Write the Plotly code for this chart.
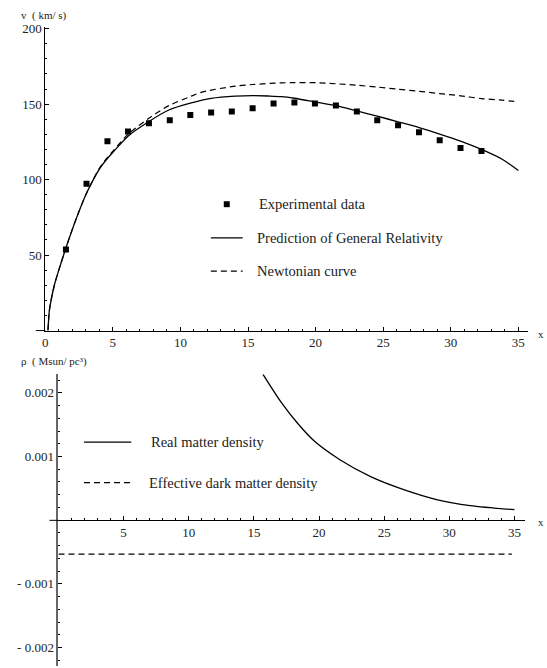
import plotly.graph_objects as go

# ---------------- data ----------------
exp_r = [1.53, 3.05, 4.6, 6.12, 7.67, 9.21, 10.73, 12.27, 13.8, 15.34, 16.89,
         18.43, 19.95, 21.5, 23.05, 24.56, 26.1, 27.65, 29.18, 30.72, 32.27]
exp_v = [53.7, 97.2, 125.4, 131.8, 137.3, 139.3, 142.8, 144.5, 145.2, 147.2, 150.5,
         151.1, 150.5, 149.1, 145.2, 139.3, 136.0, 131.4, 126.1, 120.9, 118.9]

gr_r = [0.2, 0.3, 0.45, 0.7, 1.0, 1.5, 2.0, 2.5, 3.0, 3.5, 4.0, 4.5, 5.0, 6.12, 7.67,
        9.14, 10.73, 12.27, 14.04, 15.34, 16.5, 17.5, 18.43, 19.95, 21.5, 23.05,
        24.56, 26.1, 27.65, 29.18, 30.72, 32.27, 33.8, 35.0]
gr_v = [0.0, 13, 21, 31, 40, 54, 67, 79, 90, 99, 107, 113, 118, 128.8, 138.5,
        146.1, 150.6, 153.8, 155.3, 155.6, 155.4, 155.0, 153.9, 151.5, 149.0, 145.5,
        142.0, 138.3, 134.5, 130.2, 125.5, 120.0, 113.5, 106.0]

newton_r = [0.2, 0.3, 0.45, 0.7, 1.0, 1.5, 2.0, 2.5, 3.0, 3.5, 4.0, 4.5, 5.0, 6.12,
            7.67, 9.14, 10.73, 11.59, 14.04, 15.34, 17.5, 18.43, 20.0, 21.5, 23.05,
            24.56, 26.1, 27.65, 29.18, 30.72, 32.27, 33.8, 35.0]
newton_v = [0.0, 13, 21, 31, 40, 54, 67, 79, 90, 99.3, 107.5, 113.6, 118.8, 130.0,
            140.7, 149.0, 155.0, 158.0, 161.9, 163.0, 164.1, 164.3, 164.2, 163.5, 162.5,
            161.3, 159.9, 158.5, 157.0, 155.5, 153.7, 152.6, 151.5]

rho_r = [15.7, 17.1, 18.4, 19.7, 21.6, 24.0, 26.5, 29.1, 31.6, 35.0]
rho_real = [0.00229, 0.00185, 0.00151, 0.00123, 0.00095, 0.00068, 0.00048,
            0.00032, 0.00023, 0.000165]
dark_r = [0.0, 34.8]
dark_rho = [-0.000534, -0.000534]

top_xticks = [0, 5, 10, 15, 20, 25, 30, 35]
top_yticks = [50, 100, 150, 200]
bot_xticks = [5, 10, 15, 20, 25, 30, 35]
bot_yticks = [0.002, 0.001, -0.001, -0.002]
bot_yticktext = ["0.002", "0.001", "- 0.001", "- 0.002"]

# ---------------- figure ----------------
W, H = 547, 668
FONT = "Liberation Serif"


def px(x):
    return x / W


def py(y):
    return 1 - y / H


fig = go.Figure()

fig.add_trace(go.Scatter(x=newton_r, y=newton_v, mode="lines",
                         line=dict(color="black", width=1.2, dash="6px,4px",
                                   shape="spline", smoothing=0.8),
                         xaxis="x", yaxis="y", showlegend=False))
fig.add_trace(go.Scatter(x=gr_r, y=gr_v, mode="lines",
                         line=dict(color="black", width=1.3, shape="spline", smoothing=0.8),
                         xaxis="x", yaxis="y", showlegend=False))
fig.add_trace(go.Scatter(x=exp_r, y=exp_v, mode="markers",
                         marker=dict(symbol="square", size=6, color="black"),
                         xaxis="x", yaxis="y", showlegend=False))

fig.add_trace(go.Scatter(x=rho_r, y=rho_real, mode="lines",
                         line=dict(color="black", width=1.3, shape="spline", smoothing=0.8),
                         xaxis="x2", yaxis="y2", showlegend=False))
fig.add_trace(go.Scatter(x=dark_r, y=dark_rho, mode="lines",
                         line=dict(color="black", width=1.2, dash="6px,4px"),
                         xaxis="x2", yaxis="y2", showlegend=False))

tickfont = dict(family=FONT, size=13, color="#222")
common_axis = dict(showgrid=False, zeroline=False, showline=True, linecolor="black",
                   linewidth=1, ticks="inside", tickcolor="black", tickfont=tickfont)

fig.update_layout(
    width=W, height=H,
    margin=dict(l=0, r=0, t=0, b=0),
    paper_bgcolor="white", plot_bgcolor="white",
    xaxis=dict(domain=[px(42.5), px(528)], range=[0, 35.72], anchor="y",
               tickvals=top_xticks, ticklen=4,
               minor=dict(dtick=1, ticks="inside", ticklen=2, tickcolor="black"),
               **common_axis),
    yaxis=dict(domain=[py(327.5), py(21.5)], range=[0, 200.9], anchor="x",
               tickvals=top_yticks, ticklen=4,
               minor=dict(dtick=10, ticks="inside", ticklen=2, tickcolor="black"),
               **common_axis),
    xaxis2=dict(domain=[px(55.8), px(525)], range=[0, 35.82], anchor="free",
                position=py(519), side="bottom",
                tickvals=bot_xticks, ticklen=4,
                minor=dict(dtick=1, ticks="inside", ticklen=2, tickcolor="black"),
                **common_axis),
    yaxis2=dict(domain=[py(666), py(371.7)], range=[-0.00229, 0.00229], anchor="x2",
                tickvals=bot_yticks, ticktext=bot_yticktext, ticklen=4,
                minor=dict(dtick=0.0002, ticks="inside", ticklen=2, tickcolor="black"),
                **common_axis),
)
fig.update_layout(yaxis2_linecolor="#666", yaxis2_linewidth=2)

shapes = [
    # axis stubs extending left of the y axes
    dict(type="line", xref="paper", yref="paper", x0=px(33), x1=px(42.5),
         y0=py(327.5), y1=py(327.5), line=dict(color="black", width=1)),
    dict(type="line", xref="paper", yref="paper", x0=px(46.7), x1=px(55.8),
         y0=py(519), y1=py(519), line=dict(color="black", width=1)),
    # legend keys, top
    dict(type="rect", xref="paper", yref="paper", x0=px(222), x1=px(228),
         y0=py(203), y1=py(197), fillcolor="black", line=dict(width=0)),
    dict(type="line", xref="paper", yref="paper", x0=px(209), x1=px(241),
         y0=py(234), y1=py(234), line=dict(color="black", width=1.2)),
    dict(type="line", xref="paper", yref="paper", x0=px(209), x1=px(241),
         y0=py(267.5), y1=py(267.5), line=dict(color="black", width=1.2, dash="6px,4px")),
    # legend keys, bottom
    dict(type="line", xref="paper", yref="paper", x0=px(81.5), x1=px(129),
         y0=py(440), y1=py(440), line=dict(color="black", width=1.2)),
    dict(type="line", xref="paper", yref="paper", x0=px(81.5), x1=px(129),
         y0=py(481), y1=py(481), line=dict(color="black", width=1.2, dash="6px,4px")),
]
fig.update_layout(shapes=shapes)

lf = dict(family=FONT, size=14.5, color="#222")
sf = dict(family=FONT, size=11, color="#222")


def ann(text, x, y, font, xanchor="left"):
    return dict(text=text, xref="paper", yref="paper", x=px(x), y=py(y),
                xanchor=xanchor, yanchor="middle", showarrow=False, font=font)


fig.update_layout(annotations=[
    ann("Experimental data", 255, 200, lf),
    ann("Prediction of General Relativity", 253, 234, lf),
    ann("Newtonian curve", 253, 267.5, lf),
    ann("Real matter density", 147, 440, lf),
    ann("Effective dark matter density", 145, 481, lf),
    ann("v  ( km/ s)", 16, 10, sf),
    ann("ρ  ( Msun/ pc³)", 16, 359, sf),
    ann("x", 536, 331, sf),
    ann("x", 536, 521, sf),
])

post = ("document.documentElement.style.margin='0';"
        "document.body.style.margin='0';document.body.style.padding='0';"
        "document.body.style.overflow='hidden';")
fig.write_html("out.html", post_script=post, config={"displayModeBar": False})
